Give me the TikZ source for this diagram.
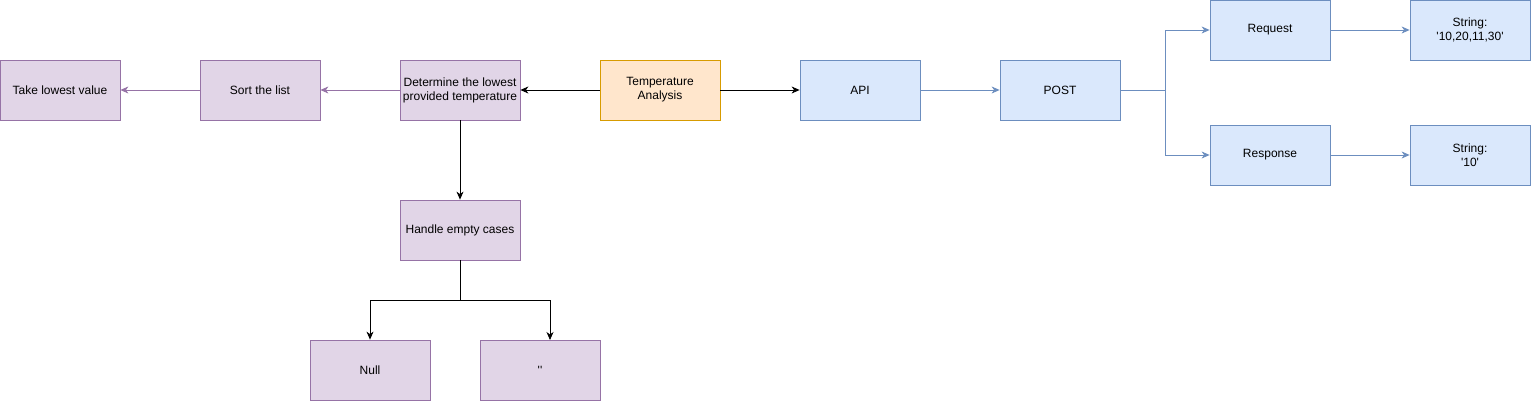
\documentclass[tikz,border=0pt]{standalone}
\usepackage{fontspec}
\setmainfont{Liberation Sans}[Ligatures=TeXOff]
\usepackage{xcolor}
\usepackage{tikz}
\usetikzlibrary{positioning,arrows.meta}
\definecolor{purpfill}{HTML}{E1D5E7}
\definecolor{purpline}{HTML}{9673A6}
\definecolor{bluefill}{HTML}{DAE8FC}
\definecolor{blueline}{HTML}{6C8EBF}
\definecolor{orfill}{HTML}{FFE6CC}
\definecolor{orline}{HTML}{D79B00}
\tikzset{
  box/.style={rectangle, minimum width=120pt, minimum height=60pt, line width=0.8pt, align=center, font=\fontsize{12}{14}\selectfont, inner sep=1pt},
  pbox/.style={box, fill=purpfill, draw=purpline},
  bbox/.style={box, fill=bluefill, draw=blueline},
  obox/.style={box, fill=orfill, draw=orline},
  Ke/.style={draw=black, line width=0.8pt, -{Stealth[length=8pt,width=7pt,inset=2.5pt]}},
  Pe/.style={draw=purpline, line width=0.8pt, -{Stealth[length=8pt,width=7pt,inset=2.5pt]}},
  Be/.style={draw=blueline, line width=0.8pt, -{Stealth[length=8pt,width=7pt,inset=2.5pt]}}
}
\begin{document}
\begin{tikzpicture}[x=1pt, y=-1pt]
        \useasboundingbox (0,0) rectangle (1531,401);
        % left branch
        \node[pbox] (take) at (60,90) {Take lowest value};
        \node[pbox] (sort) at (260,90) {Sort the list};
        \node[pbox] (lowest) at (460,90) {Determine the lowest\\provided temperature};
        \node[obox] (temp) at (660,90) {Temperature\\Analysis};
        \node[pbox] (empty) at (460,230) {Handle empty cases};
        \node[pbox] (null) at (370,370) {Null};
        \node[pbox] (quotes) at (540,370) {''};
        \coordinate (qtop) at (550,340);
        % right branch
        \node[bbox] (api) at (860,90) {API};
        \node[bbox] (post) at (1060,90) {POST};
        \node[bbox] (req) at (1270,30) {Request};
        \node[bbox] (resp) at (1270,155) {Response};
        \node[bbox] (reqstr) at (1470,30) {String:\\'10,20,11,30'};
        \node[bbox] (respstr) at (1470,155) {String:\\'10'};
        \draw[Ke] (temp)--(lowest); \draw[Ke] (temp)--(api);
        \draw[Pe] (lowest)--(sort); \draw[Pe] (sort)--(take);
        \draw[Ke] (lowest)--(empty);
        \draw[Ke] (empty.south) -- ++(0,40) -| (null.north);
        \draw[Ke] (empty.south) -- ++(0,40) -| (qtop);
        \draw[Be] (api)--(post);
        \draw[Be] (post.east) -- ++(45,0) |- (req.west);
        \draw[Be] (post.east) -- ++(45,0) |- (resp.west);
        \draw[Be] (req)--(reqstr); \draw[Be] (resp)--(respstr);
      \end{tikzpicture}
\end{document}
